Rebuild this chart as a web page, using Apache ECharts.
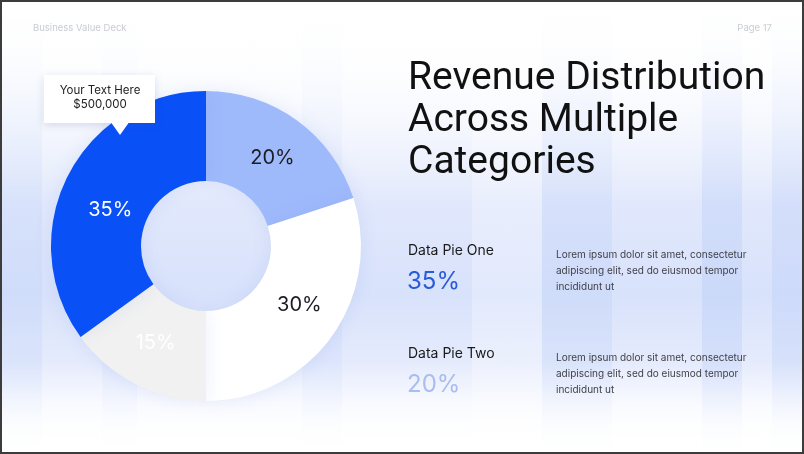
<!DOCTYPE html>
<html>
<head>
<meta charset="utf-8">
<script src="https://cdn.jsdelivr.net/npm/echarts@6/dist/echarts.min.js"></script>
<style>
  html, body { margin: 0; padding: 0; background: #fff; }
  #slide {
    width: 804px; height: 454px; box-sizing: border-box;
    border: 2px solid #3c3c3c;
    position: relative; overflow: hidden;
    background:
      linear-gradient(180deg, #ffffff 0%, rgba(255,255,255,0.9) 10%, rgba(255,255,255,0.35) 30%, rgba(255,255,255,0) 45%,
        rgba(255,255,255,0) 80%, rgba(255,255,255,0.85) 94%, #fff 100%),
      linear-gradient(90deg,
        rgba(170,195,245,0.18) 0px, rgba(170,195,245,0.18) 40px,
        rgba(255,255,255,0) 40px, rgba(255,255,255,0) 100px,
        rgba(170,195,245,0.14) 100px, rgba(170,195,245,0.14) 135px,
        rgba(255,255,255,0) 135px, rgba(255,255,255,0) 300px,
        rgba(170,195,245,0.14) 300px, rgba(170,195,245,0.14) 340px,
        rgba(255,255,255,0) 340px, rgba(255,255,255,0) 470px,
        rgba(255,255,255,0.25) 470px, rgba(255,255,255,0.25) 540px,
        rgba(170,195,245,0.2) 540px, rgba(170,195,245,0.2) 610px,
        rgba(255,255,255,0) 610px, rgba(255,255,255,0) 700px,
        rgba(165,190,245,0.25) 700px, rgba(165,190,245,0.25) 740px,
        rgba(255,255,255,0) 740px, rgba(255,255,255,0) 770px,
        rgba(165,190,245,0.22) 770px, rgba(165,190,245,0.22) 804px),
      linear-gradient(180deg, #ffffff 0%, #f2f5fe 22%, #e1e8fc 45%, #d8e2fb 65%, #e9eefd 85%, #ffffff 100%);
  }
  #chart { width: 800px; height: 450px; }
</style>
</head>
<body>
<div id="slide"><div id="chart"></div></div>
<script>
  // 饼图数据（从12点方向顺时针）
  const sliceNames = ['Category A', 'Category B', 'Category C', 'Category D'];
  const sliceValues = [20, 30, 15, 35];
  const sliceColors = ['#9fbafb', '#ffffff', '#f1f1f1', '#0a50f7'];
  const labelColors = ['#1c1c24', '#1c1c24', '#ffffff', '#ffffff'];

  // 右侧说明
  const titleLines = ['Revenue Distribution', 'Across Multiple', 'Categories'];
  const legendNames = ['Data Pie One', 'Data Pie Two'];
  const legendValues = ['35%', '20%'];
  const legendColors = ['#2a5bd8', '#a9bdf0'];
  const loremLines = ['Lorem ipsum dolor sit amet, consectetur', 'adipiscing elit, sed do eiusmod tempor', 'incididunt ut'];

  const chart = echarts.init(document.getElementById('chart'), null, { renderer: 'canvas' });
  const font = 'Inter, "Noto Sans", sans-serif';

  // 扇区内文字的微调
  const labelShift = [[0, 3], [2, -7], [1, -4], [5, 15]];

  const graphics = [
    { type: 'text', left: 31, top: 21, style: { text: 'Business Value Deck', fill: '#c9ccd3', font: '9.5px ' + font } },
    { type: 'text', right: 30, top: 21, style: { text: 'Page 17', fill: '#c9ccd3', font: '9.5px ' + font } }
  ];

  titleLines.forEach((line, i) => {
    graphics.push({
      type: 'text', left: 406, top: 58 + i * 42,
      style: { text: line, fill: '#111111', font: '39px Roboto, ' + font }
    });
  });

  legendNames.forEach((name, i) => {
    const y0 = 242 + i * 103;
    graphics.push(
      { type: 'text', left: 406, top: y0, style: { text: name, fill: '#1a1a1a', font: '14px ' + font } },
      { type: 'text', left: 405, top: y0 + 26, style: { text: legendValues[i], fill: legendColors[i], font: '24px ' + font } }
    );
    loremLines.forEach((t, j) => {
      graphics.push({
        type: 'text', left: 554, top: y0 + 6 + j * 16,
        style: { text: t, fill: '#3f3f46', font: '10px ' + font }
      });
    });
  });

  // 提示框（白色卡片 + 小三角）
  graphics.push({
    type: 'group', left: 42, top: 73, z: 100,
    children: [
      { type: 'rect', z: 100, shape: { x: 0, y: 0, width: 111, height: 48 },
        style: { fill: '#ffffff', shadowBlur: 8, shadowColor: 'rgba(60,80,140,0.18)', shadowOffsetY: 2 } },
      { type: 'polygon', z: 101, shape: { points: [[66, 46], [86, 46], [76, 60]] }, style: { fill: '#ffffff' } },
      { type: 'text', z: 102, style: { x: 56, y: 9, text: 'Your Text Here\n$500,000', align: 'center',
        fill: '#222222', font: '11.5px ' + font, lineHeight: 14 } }
    ]
  });

  chart.setOption({
    backgroundColor: 'transparent',
    graphic: graphics,
    series: [{
      type: 'pie',
      center: [204, 244],
      radius: [65, 155],
      startAngle: 90,
      clockwise: true,
      silent: true,
      z: 1,
      label: {
        show: true,
        position: 'inside',
        fontFamily: font,
        fontSize: 20
      },
      labelLine: { show: false },
      labelLayout: p => ({ dx: labelShift[p.dataIndex][0], dy: labelShift[p.dataIndex][1] }),
      itemStyle: { shadowBlur: 18, shadowColor: 'rgba(90,120,210,0.12)' },
      data: sliceNames.map((n, i) => ({
        name: n,
        value: sliceValues[i],
        itemStyle: { color: sliceColors[i] },
        label: { color: labelColors[i], formatter: sliceValues[i] + '%' }
      }))
    }]
  });
</script>
</body>
</html>
